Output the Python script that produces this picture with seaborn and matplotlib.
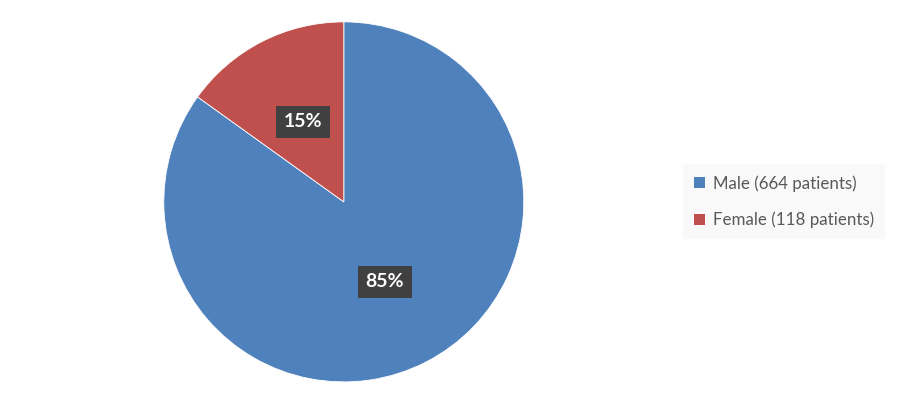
import matplotlib.pyplot as plt
import seaborn as sns
from matplotlib.patches import Patch

# data
labels = ["Male (664 patients)", "Female (118 patients)"]
counts = [664, 118]
colors = ["#4F81BD", "#C0504D"]

sns.set_style("white")
plt.rcParams["font.family"] = ["Lato", "DejaVu Sans"]

fig = plt.figure(figsize=(9, 4.05), dpi=100)
ax = fig.add_axes([0.182, 0.057, 0.4, 0.889])

wedges, texts, autotexts = ax.pie(
    counts, colors=colors, startangle=90, counterclock=False,
    autopct="%1.0f%%", pctdistance=0.5,
    wedgeprops=dict(linewidth=0.6, edgecolor="white"),
)
for t in autotexts:
    t.set_color("white")
    t.set_fontsize(14)
    t.set_fontweight("bold")
    t.set_bbox(dict(boxstyle="square,pad=0.4", facecolor="#404040", edgecolor="none"))
ax.set_xlim(-1, 1)
ax.set_ylim(-1, 1)
ax.set_aspect("equal")

handles = [Patch(facecolor=c, edgecolor="none") for c in colors]
leg = fig.legend(
    handles, labels, loc="center left", bbox_to_anchor=(0.765, 0.502),
    frameon=True, fontsize=12.2, handlelength=0.65, handleheight=0.65,
    handletextpad=0.45, labelspacing=1.2, borderpad=0.35, borderaxespad=0,
)
leg.get_frame().set_facecolor("#F8F8F8")
leg.get_frame().set_edgecolor("none")
leg.get_frame().set_boxstyle("square")
for t in leg.get_texts():
    t.set_color("#595959")

fig.savefig("out.png", dpi=100)
